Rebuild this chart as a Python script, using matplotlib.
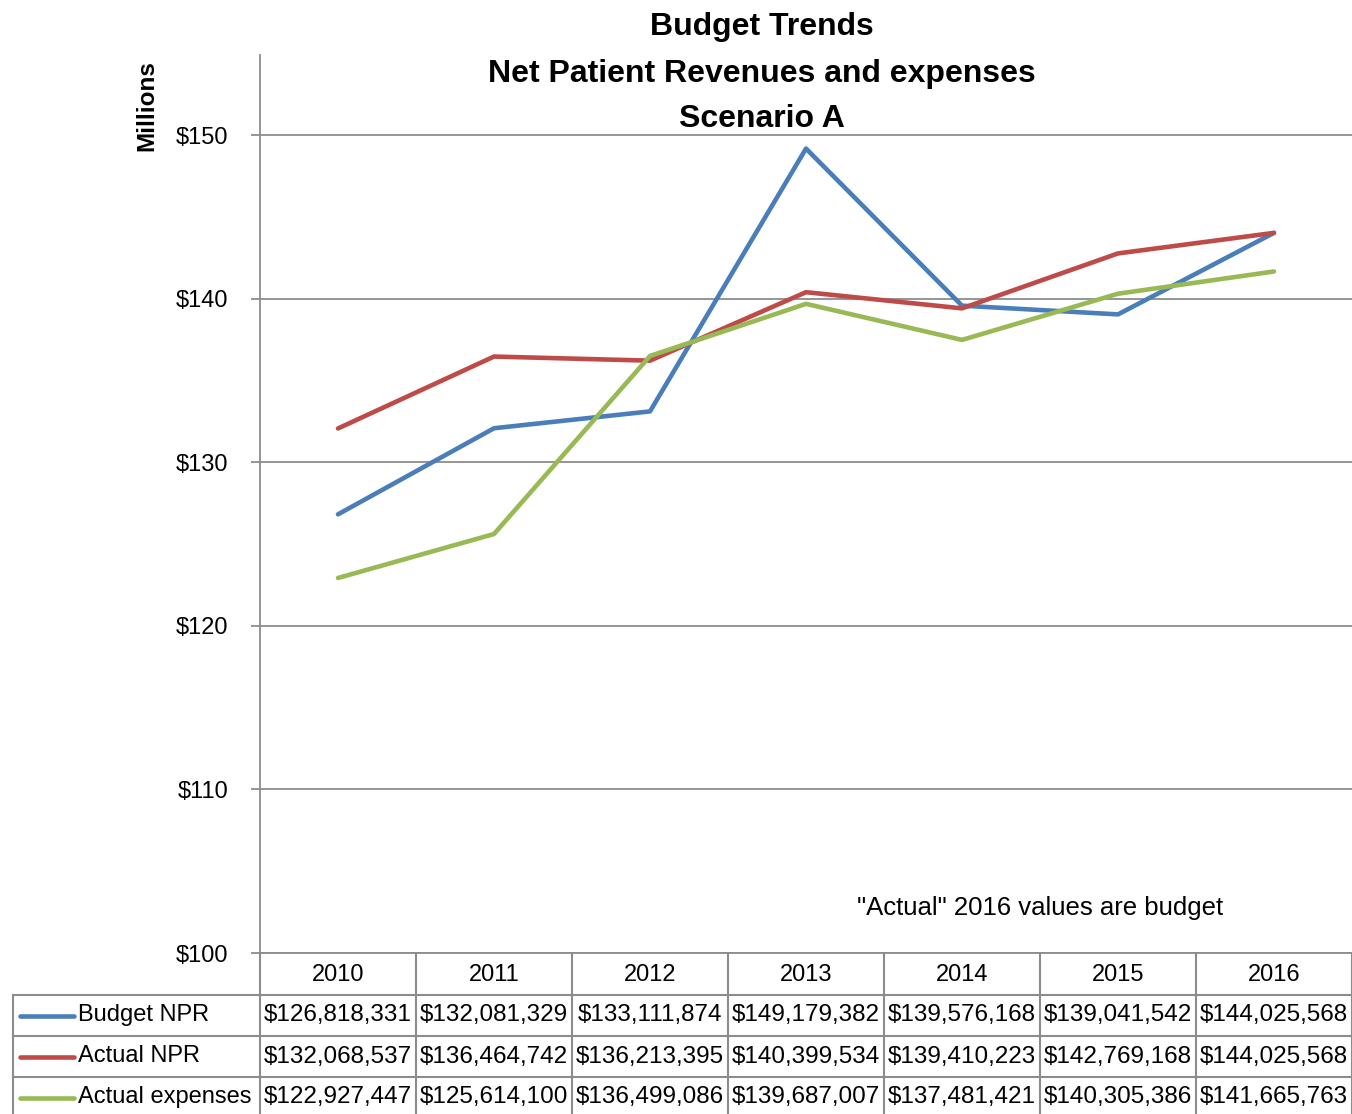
import numpy as np
import matplotlib
matplotlib.use("Agg")
import matplotlib.pyplot as plt

plt.rcParams['font.family'] = ['Liberation Sans', 'DejaVu Sans']

years = ['2010', '2011', '2012', '2013', '2014', '2015', '2016']
budget_npr = [126818331, 132081329, 133111874, 149179382, 139576168, 139041542, 144025568]
actual_npr = [132068537, 136464742, 136213395, 140399534, 139410223, 142769168, 144025568]
actual_exp = [122927447, 125614100, 136499086, 139687007, 137481421, 140305386, 141665763]
series_names = ['Budget NPR', 'Actual NPR', 'Actual expenses']
series_colors = ['#4a7ebb', '#be4b48', '#98b954']
yticks = [100, 110, 120, 130, 140, 150]

W, H = 1352, 1114
fig = plt.figure(figsize=(W / 100, H / 100), dpi=100)

# plot area in pixel terms
left, right, top, bottom = 260, 1352, 55, 953
ax = fig.add_axes([left / W, 1 - bottom / H, (right - left) / W, (bottom - top) / H])

x = np.arange(len(years))
series = [budget_npr, actual_npr, actual_exp]
for vals, name, col in zip(series, series_names, series_colors):
    ax.plot(x, np.array(vals) / 1e6, color=col, lw=3.3, label=name, solid_capstyle='round', zorder=3)

ax.set_xlim(-0.5, len(years) - 0.5)
ax.set_ylim(100, 154.9)
ax.set_yticks(yticks)
ax.set_yticklabels(['$%d' % v for v in yticks], fontsize=17)
ax.set_xticks([])
ax.yaxis.grid(True, color='#8c8c8c', lw=1.3)
ax.set_axisbelow(True)
for s in ['top', 'right']:
    ax.spines[s].set_visible(False)
for s in ['left', 'bottom']:
    ax.spines[s].set_color('#8c8c8c')
    ax.spines[s].set_linewidth(1.3)
ax.tick_params(axis='y', length=6.5, width=1.3, color='#8c8c8c', pad=16.5)

fig.text(1040 / W, 1 - 908 / H, '"Actual" 2016 values are budget', ha='center', va='center', fontsize=18.5)

fig.text(762 / W, 1 - 27 / H, 'Budget Trends', ha='center', va='center', fontsize=23, fontweight='bold')
fig.text(762 / W, 1 - 74 / H, 'Net Patient Revenues and expenses', ha='center', va='center',
         fontsize=23, fontweight='bold')
fig.text(762 / W, 1 - 119 / H, 'Scenario A', ha='center', va='center', fontsize=23, fontweight='bold')
fig.text(147 / W, 1 - 106 / H, 'Millions', ha='center', va='center', rotation=90,
         fontsize=17.5, fontweight='bold')

# data table under the plot, drawn in pixel coordinates
tab = fig.add_axes([0, 0, 1, 1], zorder=-1)
tab.set_xlim(0, W)
tab.set_ylim(H, 0)
tab.axis('off')
grid_kw = dict(color='#8c8c8c', lw=1.5)
colw = 156
rows_y = [953, 995, 1036, 1077, 1118]
tab_left = 13

for i, yr in enumerate(years):
    cx = left + colw * (i + 0.5)
    tab.text(cx, (rows_y[0] + rows_y[1]) / 2 + 1, yr, ha='center', va='center', fontsize=17)
for i in range(len(years) + 1):
    tab.plot([left + colw * i] * 2, [rows_y[0], H], **grid_kw)
tab.plot([tab_left, tab_left], [rows_y[1], H], **grid_kw)
for yy in rows_y[1:]:
    tab.plot([tab_left, W], [yy, yy], **grid_kw)

for r, (vals, name, col) in enumerate(zip(series, series_names, series_colors)):
    cy = (rows_y[r + 1] + rows_y[r + 2]) / 2
    tab.plot([20, 74], [cy, cy], color=col, lw=3.3, solid_capstyle='round')
    tab.text(78, cy, name, ha='left', va='center', fontsize=17)
    for i, v in enumerate(vals):
        tab.text(left + colw * (i + 0.5), cy, '${:,}'.format(v), ha='center', va='center', fontsize=17.5)

fig.savefig('out.png', dpi=100, facecolor='white')
